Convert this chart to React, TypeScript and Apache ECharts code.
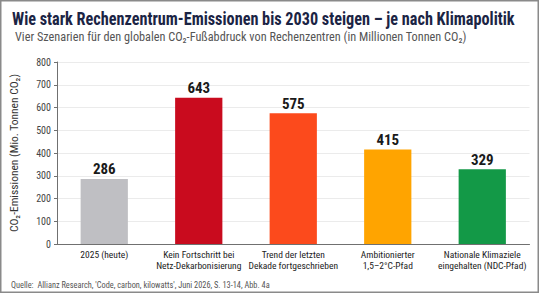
import React, { useEffect, useRef } from "react";
import * as echarts from "echarts";

const categories = [
  "2025 (heute)",
  "Kein Fortschritt bei\nNetz-Dekarbonisierung",
  "Trend der letzten\nDekade fortgeschrieben",
  "Ambitionierter\n1,5–2°C-Pfad",
  "Nationale Klimaziele\neingehalten (NDC-Pfad)",
];
const emissions = [286, 643, 575, 415, 329];
const barColors = ["#bfbfc3", "#c90b1e", "#fc4a1c", "#ffa400", "#139947"];

const titleText = "Wie stark Rechenzentrum-Emissionen bis 2030 steigen – je nach Klimapolitik";
const subtitleText = "Vier Szenarien für den globalen CO₂-Fußabdruck von Rechenzentren (in Millionen Tonnen CO₂)";
const yAxisName = "CO₂-Emissionen (Mio. Tonnen CO₂)";
const sourceText = "Quelle:  Allianz Research, 'Code, carbon, kilowatts', Juni 2026, S. 13-14, Abb. 4a";

const FONT = "'Roboto Condensed', 'Roboto', sans-serif";

// Horizontal squeeze factor so a text line spans the wanted width.
function fitScale(text: string, font: string, width: number): number {
  const ctx = document.createElement("canvas").getContext("2d");
  if (!ctx) return 1;
  ctx.font = font;
  const w = ctx.measureText(text).width;
  return w > 0 ? width / w : 1;
}

export default function App() {
  const ref = useRef<HTMLDivElement>(null);

  useEffect(() => {
    if (!ref.current) return;
    const chart = echarts.init(ref.current, null, { renderer: "svg" });

    const titleScale = fitScale(titleText, `bold 18px ${FONT}`, 503);
    const subScale = fitScale(subtitleText, `13px ${FONT}`, 452);
    const srcScale = fitScale(sourceText, `9px ${FONT}`, 259);

    chart.setOption({
      animation: false,
      backgroundColor: "#ffffff",
      graphic: [
        {
          type: "rect",
          shape: { x: 0.75, y: 0.75, width: 537.5, height: 291.5 },
          style: { fill: "none", stroke: "#8a8a8a", lineWidth: 1.5 },
          silent: true,
        },
        {
          type: "text",
          x: 12,
          y: 18.5,
          scaleX: titleScale,
          style: {
            text: titleText,
            fontFamily: FONT,
            fontSize: 18,
            fontWeight: "bold",
            fill: "#1b2444",
            align: "left",
            verticalAlign: "middle",
          },
        },
        {
          type: "text",
          x: 15,
          y: 36,
          scaleX: subScale,
          style: {
            text: subtitleText,
            fontFamily: FONT,
            fontSize: 13,
            fill: "#555555",
            align: "left",
            verticalAlign: "middle",
          },
        },
        {
          type: "text",
          x: 11,
          y: 284.5,
          scaleX: srcScale,
          style: {
            text: sourceText,
            fontFamily: FONT,
            fontSize: 9,
            fill: "#555555",
            align: "left",
            verticalAlign: "middle",
          },
        },
      ],
      grid: { left: 51.5, right: 9.5, top: 62, bottom: 52, containLabel: false },
      xAxis: {
        type: "category",
        data: categories,
        axisLine: { lineStyle: { color: "#707070", width: 1 } },
        axisTick: { show: false },
        axisLabel: {
          interval: 0,
          fontFamily: FONT,
          fontSize: 9.5,
          lineHeight: 11,
          color: "#222222",
          margin: 5,
        },
      },
      yAxis: {
        type: "value",
        min: 0,
        max: 800,
        interval: 100,
        name: yAxisName,
        nameLocation: "middle",
        nameGap: 37,
        nameTextStyle: { fontFamily: FONT, fontSize: 11.5, color: "#333333" },
        axisLine: { show: true, lineStyle: { color: "#707070", width: 1 } },
        axisTick: { show: true, length: 3, lineStyle: { color: "#707070" } },
        axisLabel: { fontFamily: FONT, fontSize: 10, color: "#444444", margin: 6 },
        splitLine: { lineStyle: { color: "#ebebeb", width: 1 } },
      },
      series: [
        {
          type: "bar",
          barWidth: "50%",
          data: emissions.map((v, i) => ({ value: v, itemStyle: { color: barColors[i] } })),
          label: {
            show: true,
            position: "top",
            distance: 2,
            fontFamily: FONT,
            fontSize: 15,
            fontWeight: "bold",
            color: "#1a1a1a",
          },
        },
      ],
    });
    return () => chart.dispose();
  }, []);

  return (
    <div
      ref={ref}
      style={{ position: "fixed", left: 0, top: 0, width: 539, height: 296 }}
    />
  );
}
